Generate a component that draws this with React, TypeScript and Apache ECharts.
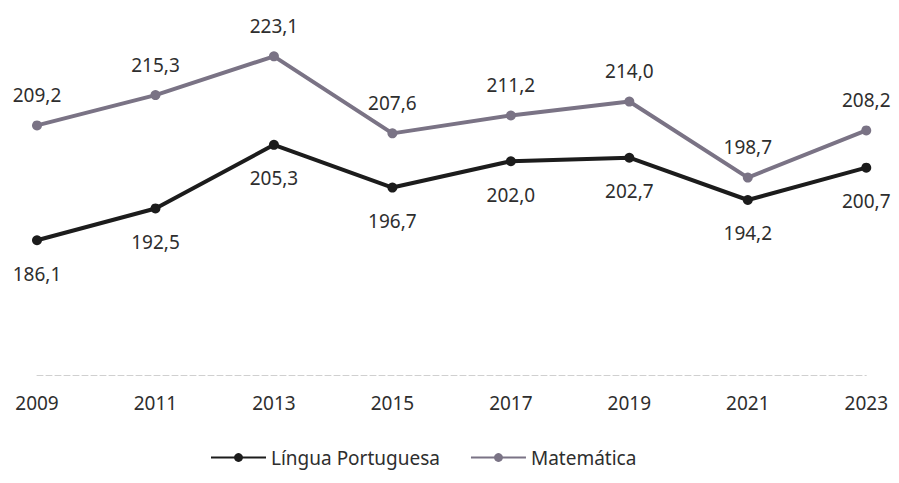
import React, { useEffect, useRef } from "react";
import * as echarts from "echarts";

const years = ["2009", "2011", "2013", "2015", "2017", "2019", "2021", "2023"];
const portugues = [186.1, 192.5, 205.3, 196.7, 202.0, 202.7, 194.2, 200.7];
const matematica = [209.2, 215.3, 223.1, 207.6, 211.2, 214.0, 198.7, 208.2];

const FONT = "'Noto Sans', sans-serif";
const fmt = (p: any) => Number(p.value).toFixed(1).replace(".", ",");

export default function App() {
  const ref = useRef<HTMLDivElement>(null);
  useEffect(() => {
    if (!ref.current) return;
    const chart = echarts.init(ref.current, undefined, { renderer: "svg" });
    chart.setOption({
      animation: false,
      backgroundColor: "#fff",
      textStyle: { fontFamily: FONT },
      grid: { left: 29, right: 21, top: 14, height: 353 },
      xAxis: {
        type: "category",
        data: years,
        boundaryGap: false,
        axisTick: { show: false },
        axisLine: { lineStyle: { color: "#d0d0d0", width: 1, type: [6, 3] } },
        axisLabel: { color: "#2e2e2e", fontSize: 19, margin: 18, fontFamily: FONT },
      },
      yAxis: {
        type: "value",
        min: 159,
        max: 230,
        show: false,
        splitLine: { show: false },
      },
      legend: {
        top: 438,
        left: 200,
        itemWidth: 55,
        itemHeight: 11,
        itemGap: 30,
        padding: 2,
        textStyle: { color: "#2e2e2e", fontSize: 19, fontFamily: FONT },
        data: ["Língua Portuguesa", "Matemática"],
      },
      series: [
        {
          name: "Língua Portuguesa",
          type: "line",
          data: portugues,
          symbol: "circle",
          symbolSize: 10,
          lineStyle: { color: "#1c1c1c", width: 4 },
          itemStyle: { color: "#1c1c1c" },
          label: {
            show: true,
            position: "bottom",
            distance: 16,
            formatter: fmt,
            color: "#2e2e2e",
            fontSize: 19,
            fontFamily: FONT,
            backgroundColor: "#fff",
            padding: [3, 4],
          },
        },
        {
          name: "Matemática",
          type: "line",
          data: matematica,
          symbol: "circle",
          symbolSize: 10,
          lineStyle: { color: "#7a7385", width: 4 },
          itemStyle: { color: "#7a7385" },
          label: {
            show: true,
            position: "top",
            distance: 16,
            formatter: fmt,
            color: "#2e2e2e",
            fontSize: 19,
            fontFamily: FONT,
          },
        },
      ],
    });
    return () => chart.dispose();
  }, []);
  return <div ref={ref} style={{ width: 883, height: 467 }} />;
}
